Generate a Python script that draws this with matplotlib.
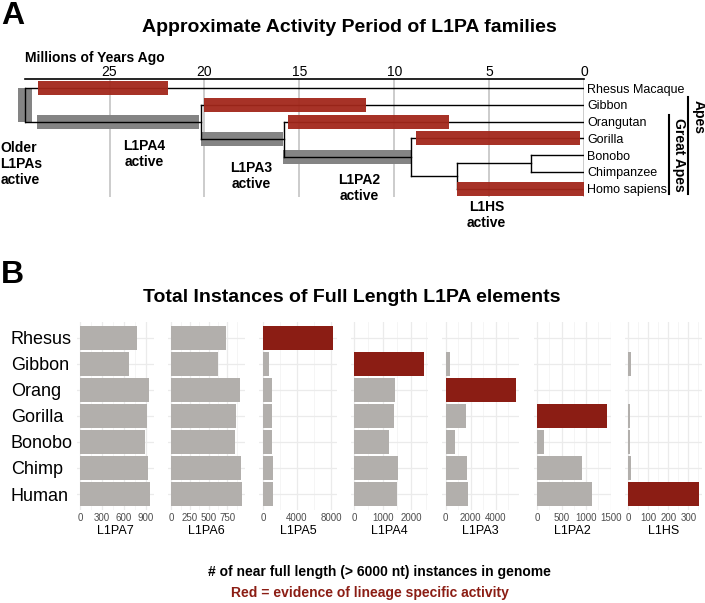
import numpy as np
import matplotlib.pyplot as plt
from matplotlib.ticker import AutoMinorLocator

plt.rcParams['font.family'] = ['Liberation Sans', 'DejaVu Sans']

W, H = 705, 603

# ---- panel A: tree + activity periods (millions of years ago)
taxa = ['Rhesus Macaque', 'Gibbon', 'Orangutan', 'Gorilla', 'Bonobo', 'Chimpanzee', 'Homo sapiens']
split_a = ['Bonobo', 'Pan', 'Gorilla', 'Orangutan', 'Gibbon', 'Rhesus Macaque']
split_b = ['Chimpanzee', 'Homo sapiens', 'HomoPan', 'African', 'GreatApes', 'Apes']
split_name = ['Pan', 'HomoPan', 'African', 'GreatApes', 'Apes', 'Root']
split_mya = [2.8, 6.7, 9.1, 15.8, 20.2, 29.45]

act_taxa = ['Rhesus Macaque', 'Gibbon', 'Orangutan', 'Gorilla', 'Homo sapiens']
act_start = [28.75, 20.05, 15.6, 8.85, 6.7]
act_end = [21.9, 11.5, 7.1, 0.25, 0.0]

stem_node = ['Apes', 'GreatApes', 'African']
stem_start = [28.8, 20.2, 15.85]
stem_end = [20.3, 15.85, 9.1]
root_gray = (29.8, 29.1)

period_labels = ['Older\nL1PAs\nactive', 'L1PA4\nactive', 'L1PA3\nactive', 'L1PA2\nactive', 'L1HS\nactive']
period_mya = [30.75, 23.17, 17.56, 11.87, 5.14]
period_row = [4.53, 3.93, 5.23, 5.97, 7.57]

mya_ticks = [25, 20, 15, 10, 5, 0]

# ---- panel B: full length counts
species = ['Rhesus', 'Gibbon', 'Orang', 'Gorilla', 'Bonobo', 'Chimp', 'Human']
families = ['L1PA7', 'L1PA6', 'L1PA5', 'L1PA4', 'L1PA3', 'L1PA2', 'L1HS']
L1PA7 = [777, 673, 941, 914, 887, 937, 964]
L1PA6 = [727, 623, 921, 863, 850, 931, 944]
L1PA5 = [8250, 670, 1100, 1060, 1020, 1180, 1140]
L1PA4 = [0, 2463, 1418, 1383, 1220, 1545, 1510]
L1PA3 = [0, 376, 5620, 1624, 744, 1704, 1760]
L1PA2 = [0, 0, 0, 1419, 135, 921, 1117]
L1HS = [0, 15, 0, 10, 10, 15, 352]
counts = [L1PA7, L1PA6, L1PA5, L1PA4, L1PA3, L1PA2, L1HS]
active_in = [None, None, 'Rhesus', 'Gibbon', 'Orang', 'Gorilla', 'Human']
ticks_b = [[0, 300, 600, 900], [0, 250, 500, 750], [0, 4000, 8000], [0, 1000, 2000],
           [0, 2000, 4000], [0, 500, 1000, 1500], [0, 100, 200, 300]]

red_a = '#a2271b'
gray_a = '#848484'
red_b = '#8b1d14'
gray_b = '#b2afac'


def box(l, t, r, b):
    return [l / W, 1 - b / H, (r - l) / W, (b - t) / H]


fig = plt.figure(figsize=(W / 100, H / 100), dpi=100)

# ================= A
ax = fig.add_axes(box(25, 79, 584.3, 197))
ax.set_xlim(29.45, 0)
ax.set_ylim(6.5, -0.54)

ypos = {t: i for i, t in enumerate(taxa)}
xpos = {t: 0.0 for t in taxa}
for a, b, name, t in zip(split_a, split_b, split_name, split_mya):
    ax.plot([t, t], [ypos[a], ypos[b]], color='black', lw=1, zorder=3, clip_on=False)
    for c in (a, b):
        ax.plot([t, xpos[c]], [ypos[c], ypos[c]], color='black', lw=1, zorder=3)
    ypos[name] = (ypos[a] + ypos[b]) / 2
    xpos[name] = t

# gray stems (ancestral activity)
ax.barh([ypos[n] for n in stem_node], np.array(stem_start) - np.array(stem_end),
        left=stem_end, height=0.84, color=gray_a, zorder=2)
ax.bar((root_gray[0] + root_gray[1]) / 2, ypos['Apes'] - ypos['Rhesus Macaque'],
       width=root_gray[0] - root_gray[1], bottom=ypos['Rhesus Macaque'],
       color=gray_a, zorder=2, clip_on=False)

# red lineage specific activity
ax.barh([ypos[t] for t in act_taxa], np.array(act_start) - np.array(act_end),
        left=act_end, height=0.84, color=red_a, alpha=0.95, zorder=4)

ax.set_xticks(mya_ticks)
ax.xaxis.tick_top()
ax.tick_params(axis='x', length=0, pad=0, labelsize=10)
ax.grid(axis='x', color='#c4c4c4', lw=1.2, zorder=0)
ax.set_yticks(range(len(taxa)))
ax.set_yticklabels(taxa, fontsize=9)
ax.yaxis.tick_right()
ax.tick_params(axis='y', length=0, pad=2)
for s in ['left', 'right', 'bottom']:
    ax.spines[s].set_visible(False)
ax.spines['top'].set_linewidth(1.2)

for lab, t, r in zip(period_labels, period_mya, period_row):
    ax.text(t, r, lab, ha='left' if lab.startswith('Older') else 'center', va='center',
            fontsize=10, fontweight='bold', linespacing=1.15, clip_on=False)

# Apes / Great Apes brackets
ax.plot([-5.44, -5.44], [0.52, 6.33], color='black', lw=1.5, clip_on=False)
ax.plot([-4.46, -4.46], [1.61, 6.33], color='black', lw=1.5, clip_on=False)
ax.text(-6.0, 1.73, 'Apes', rotation=270, ha='center', va='center', fontsize=10,
        fontweight='bold', clip_on=False)
ax.text(-4.98, 4.0, 'Great Apes', rotation=270, ha='center', va='center', fontsize=10,
        fontweight='bold', clip_on=False)

fig.text(25 / W, 1 - 58 / H, 'Millions of Years Ago', fontsize=10, fontweight='bold',
         ha='left', va='center')
fig.text(1 / W, 1 - 16 / H, 'A', fontsize=23, fontweight='bold', ha='left', va='center')
fig.text(349 / W, 1 - 27 / H, 'Approximate Activity Period of L1PA families', fontsize=14,
         fontweight='bold', ha='center', va='center')

# ================= B
fig.text(1 / W, 1 - 275 / H, 'B', fontsize=23, fontweight='bold', ha='left', va='center')
fig.text(352 / W, 1 - 297 / H, 'Total Instances of Full Length L1PA elements', fontsize=14,
         fontweight='bold', ha='center', va='center')

ypos_b = np.arange(len(species))
for i, (fam, vals, act, tk) in enumerate(zip(families, counts, active_in, ticks_b)):
    l = 76.5 + i * 91.4
    axb = fig.add_axes(box(l, 322.4, l + 77.3, 509.6))
    cols = [red_b if s == act else gray_b for s in species]
    axb.barh(ypos_b, vals, height=0.9, color=cols, zorder=2)
    m = max(vals)
    axb.set_xlim(-0.05 * m, 1.05 * m)
    axb.set_ylim(len(species) - 0.4, -0.6)
    axb.set_xticks(tk)
    axb.xaxis.set_minor_locator(AutoMinorLocator(2))
    axb.set_yticks(ypos_b)
    axb.set_axisbelow(True)
    axb.grid(which='major', color='#ebebeb', lw=0.9)
    axb.grid(which='minor', axis='x', color='#f4f4f4', lw=0.6)
    axb.tick_params(which='both', length=0)
    axb.tick_params(axis='x', labelsize=7, labelcolor='#4d4d4d', pad=2.5)
    for s in axb.spines.values():
        s.set_visible(False)
    axb.set_xlabel(fam, fontsize=9, labelpad=1.5)
    if i == 0:
        axb.set_yticklabels(species, fontsize=13, ha='left')
        axb.tick_params(axis='y', pad=47.4)
    else:
        axb.tick_params(axis='y', labelleft=False)

fig.text(379 / W, 1 - 572 / H, '# of near full length (> 6000 nt) instances in genome',
         fontsize=10, fontweight='bold', ha='center', va='center')
fig.text(370 / W, 1 - 593 / H, 'Red = evidence of lineage specific activity',
         fontsize=10, fontweight='bold', color=red_b, ha='center', va='center')

fig.savefig('out.png', dpi=100)
